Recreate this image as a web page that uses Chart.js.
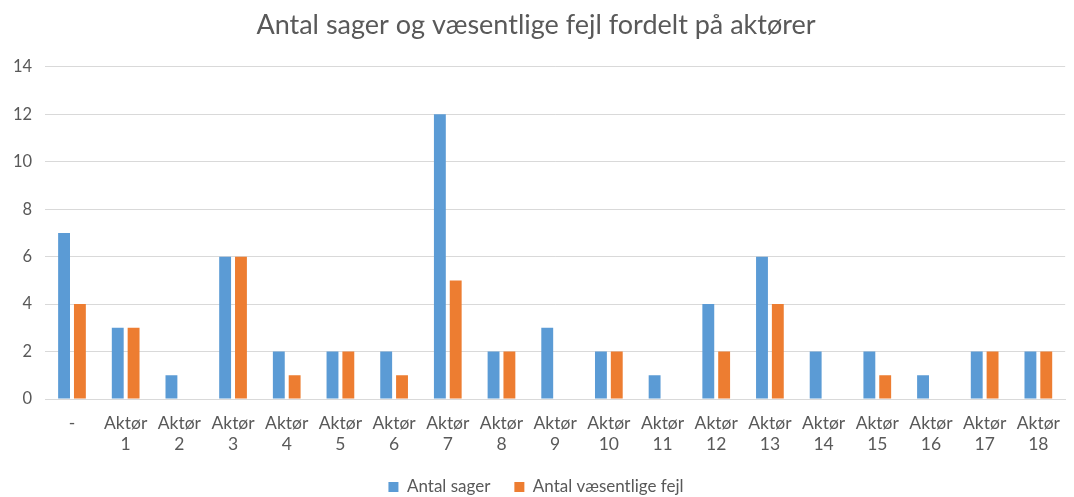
<!DOCTYPE html>
<html>
<head>
<meta charset="utf-8">
<script src="https://cdn.jsdelivr.net/npm/chart.js@4/dist/chart.umd.min.js"></script>
<style>
html,body{margin:0;padding:0;background:#fff;}
#wrap{width:1074px;height:497px;}
</style>
</head>
<body>
<div id="wrap"><canvas id="c" width="1074" height="497"></canvas></div>
<script>
const categories = [["-"],["Aktør","1"],["Aktør","2"],["Aktør","3"],["Aktør","4"],["Aktør","5"],["Aktør","6"],["Aktør","7"],["Aktør","8"],["Aktør","9"],["Aktør","10"],["Aktør","11"],["Aktør","12"],["Aktør","13"],["Aktør","14"],["Aktør","15"],["Aktør","16"],["Aktør","17"],["Aktør","18"]];
const antalSager = [7,3,1,6,2,2,2,12,2,3,2,1,4,6,2,2,1,2,2];
const antalFejl = [4,3,0,6,1,2,1,5,2,0,2,0,2,4,0,1,0,2,2];
const yTicks = [0,2,4,6,8,10,12,14];

const FONT = "Lato, 'Open Sans', sans-serif";
const TXT = '#595959';

const legendHeightPlugin = {
  id: 'legendHeight',
  afterInit(chart) {
    const lg = chart.legend;
    if (lg && !lg._patched) {
      const orig = lg.fit.bind(lg);
      lg.fit = function () { orig(); this.height = 42.5; };
      lg._patched = true;
    }
  }
};

new Chart(document.getElementById('c'), {
  type: 'bar',
  data: {
    labels: categories,
    datasets: [
      {label: 'Antal sager', data: antalSager, backgroundColor: '#5B9BD5', barPercentage: 0.75, categoryPercentage: 0.59},
      {label: 'Antal væsentlige fejl', data: antalFejl, backgroundColor: '#ED7D31', barPercentage: 0.75, categoryPercentage: 0.59}
    ]
  },
  plugins: [legendHeightPlugin],
  options: {
    responsive: false,
    animation: false,
    layout: {padding: {left: 0, right: 2, top: 0, bottom: 0}},
    plugins: {
      title: {display: true, text: 'Antal sager og væsentlige fejl fordelt på aktører', color: TXT,
        font: {family: FONT, size: 27, weight: 'normal'}, padding: {top: 9, bottom: 25.5}},
      legend: {position: 'bottom', labels: {color: TXT, font: {family: FONT, size: 17}, boxWidth: 10, boxHeight: 10, padding: 24}},
      tooltip: {enabled: false}
    },
    scales: {
      x: {
        grid: {display: false, drawTicks: false},
        border: {color: '#D9D9D9'},
        ticks: {color: TXT, font: {family: FONT, size: 17.5, lineHeight: 1.2}, maxRotation: 0, autoSkip: false, padding: 14},
        afterFit: (s) => { s.height = 55.5; }
      },
      y: {
        min: 0, max: 14,
        afterBuildTicks: (s) => { s.ticks = yTicks.map(v => ({value: v})); },
        grid: {color: '#D9D9D9', drawTicks: false},
        border: {display: false},
        ticks: {color: TXT, font: {family: FONT, size: 16.5}, padding: 13}
      }
    }
  }
});
</script>
</body>
</html>
